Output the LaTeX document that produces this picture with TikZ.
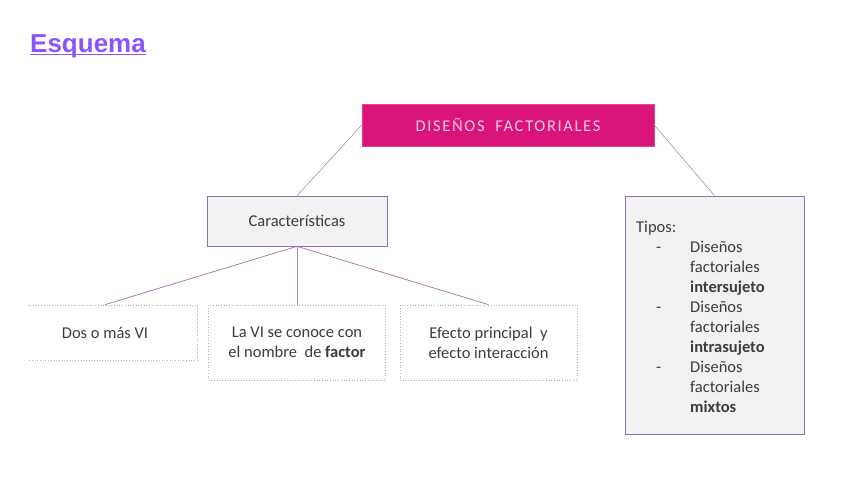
\documentclass[tikz,border=0pt]{standalone}
\usepackage{fontspec}
\setmainfont{Carlito}
\newfontfamily\titlefont{Liberation Sans}
\usetikzlibrary{positioning}
\definecolor{titlepurple}{HTML}{8C52FF}
\definecolor{mainpink}{HTML}{D9157B}
\definecolor{paletext}{HTML}{F6C9E0}
\definecolor{boxgray}{HTML}{F2F1F4}
\definecolor{boxedge}{HTML}{9470B8}
\definecolor{linkgray}{HTML}{8E84A6}
\definecolor{linkmauve}{HTML}{A46FA8}
\definecolor{linkblue}{HTML}{958BDA}
\definecolor{dotgray}{HTML}{B4B4B4}
\definecolor{inktext}{HTML}{3C3C3C}

\begin{document}
\begin{tikzpicture}
    [x=1pt, y=-1pt,
     every node/.style={font=\fontsize{16.5}{20}\selectfont, text=inktext},
     rootbox/.style={fill=mainpink, draw=mainpink!80!white, minimum width=292pt, minimum height=42pt},
     greybox/.style={fill=boxgray, draw=boxedge, line width=0.6pt},
     dotbox/.style={draw=dotgray, dotted, line width=0.7pt, minimum height=55pt, align=center},
     toplink/.style={draw=linkgray, line width=0.5pt},
     sublink/.style={draw=linkmauve, line width=0.7pt}]

    \useasboundingbox (0,0) rectangle (848,477);

    \node[anchor=base west, inner sep=0pt, font=\titlefont\bfseries\fontsize{26}{30}\selectfont, text=titlepurple] (title) at (30,52)
      {Esquema};
    \draw[titlepurple, line width=1.3pt] ([yshift=-2.5pt]title.base west) -- ([yshift=-2.5pt]title.base east);

    \node[rootbox] (root) at (508,125)
      {\addfontfeature{LetterSpace=10}\color{paletext}DISEÑOS\ \ FACTORIALES};

    \node[greybox, minimum width=180pt, minimum height=50pt] (carac) at (297,221) {Características};

    \node[greybox, minimum width=179pt, minimum height=238pt] (tipos) at (714.5,315) {};
    \node[anchor=north west, align=left, inner sep=0pt] (tiposlist) at (636,221)
      {Tipos:\\
       \makebox[54pt][l]{\hspace{20pt}-}Diseños\\
       \hspace*{54pt}factoriales\\
       \hspace*{54pt}\textbf{intersujeto}\\
       \makebox[54pt][l]{\hspace{20pt}-}Diseños\\
       \hspace*{54pt}factoriales\\
       \hspace*{54pt}\textbf{intrasujeto}\\
       \makebox[54pt][l]{\hspace{20pt}-}Diseños\\
       \hspace*{54pt}factoriales\\
       \hspace*{54pt}\textbf{mixtos}};

    \begin{scope}
      \clip (28,290) rectangle (200,370);
      \node[dotbox, minimum width=184pt] (dos) at (105,332.5) {Dos o más VI};
    \end{scope}
    \node[dotbox, minimum width=177pt, minimum height=75pt] (factor) at (297,342.5)
      {La VI se conoce con\\el nombre \ de \textbf{factor}};
    \node[dotbox, minimum width=177pt, minimum height=75pt] (efecto) at (488.5,342.5)
      {Efecto principal \ y\\efecto interacción};

    \draw[toplink] (root.west) -- (carac.north);
    \draw[toplink] (root.east) -- (tipos.north);
    \draw[sublink] (carac.south) -- (dos.north);
    \draw[draw=linkblue, line width=0.7pt] (carac.south) -- (factor.north);
    \draw[sublink] (carac.south) -- (efecto.north);
  \end{tikzpicture}
\end{document}
